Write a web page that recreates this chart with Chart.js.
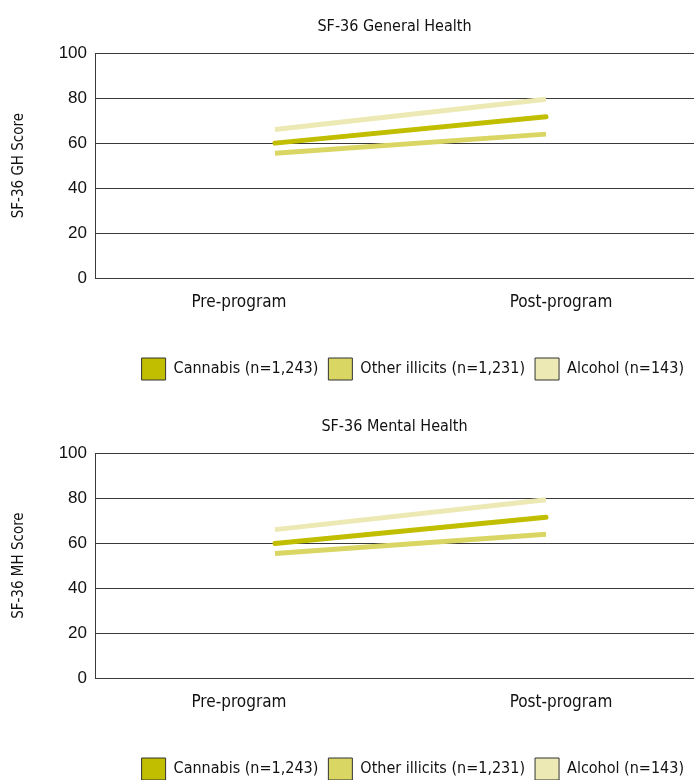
<!DOCTYPE html>
<html>
<head>
<meta charset="utf-8">
<script src="https://cdn.jsdelivr.net/npm/chart.js@4.4.1/dist/chart.umd.min.js"></script>
<style>
  html, body { margin: 0; background: #fff; overflow: hidden; height: 780px; }
  .box { position: relative; width: 694px; }
</style>
</head>
<body>
<div class="box" style="height:400px"><canvas id="ghChart"></canvas></div>
<div class="box" style="height:390px"><canvas id="mhChart"></canvas></div>
<script>
// data
const periods = ['Pre-program', 'Post-program'];
const groups = ['Cannabis (n=1,243)', 'Other illicits (n=1,231)', 'Alcohol (n=143)'];
const colors = ['#c1be00', '#d9d664', '#ece9b4'];

const ghCannabis = [60, 71.7];
const ghOther = [55.5, 64];
const ghAlcohol = [66.1, 79.5];

const mhCannabis = [59.8, 71.5];
const mhOther = [55.4, 63.9];
const mhAlcohol = [66, 79.3];

const yTicks = [0, 20, 40, 60, 80, 100];

Chart.defaults.font.family = "'Liberation Sans Narrow', 'DejaVu Sans Condensed', sans-serif";
Chart.defaults.color = '#111';

function makeChart(id, title, yTitle, series, bottomPad) {
  const datasets = series.map((vals, i) => ({
    label: groups[i],
    data: periods.map((p, k) => ({ x: k, y: vals[k] })),
    xAxisID: 'xl',
    borderColor: colors[i],
    backgroundColor: colors[i],
    borderWidth: 5,
    borderCapStyle: i === 0 ? 'round' : 'butt',
    pointRadius: 0,
    tension: 0
  }));

  return new Chart(document.getElementById(id), {
    type: 'line',
    data: { labels: periods, datasets: datasets },
    options: {
      responsive: true,
      maintainAspectRatio: false,
      animation: false,
      layout: { padding: { left: 0, right: 0, top: 0, bottom: bottomPad } },
      plugins: {
        title: {
          display: true,
          fullSize: false,
          text: title,
          font: { size: 16, weight: 'normal' },
          color: '#111',
          padding: { top: 17, bottom: 17 }
        },
        legend: {
          position: 'bottom',
          align: 'end',
          labels: {
            boxWidth: 24,
            boxHeight: 22,
            padding: 10,
            font: { size: 16 },
            generateLabels: chart => chart.data.datasets.map((ds, i) => ({
              text: ds.label,
              fillStyle: ds.backgroundColor,
              strokeStyle: '#333',
              lineWidth: 1,
              hidden: false,
              datasetIndex: i,
              fontColor: '#111'
            }))
          }
        },
        tooltip: { enabled: false }
      },
      scales: {
        // visible category labels
        x: {
          type: 'linear',
          min: -0.447,
          max: 1.413,
          afterBuildTicks: scale => { scale.ticks = periods.map((p, k) => ({ value: k })); },
          grid: { display: false, drawTicks: false },
          border: { display: false },
          ticks: {
            padding: 14,
            font: { size: 17 },
            color: '#111',
            callback: v => periods[v]
          },
          afterFit: scale => { scale.height = 70; }
        },
        // hidden axis that places the line ends
        xl: {
          type: 'linear',
          display: false,
          min: -0.664,
          max: 1.546
        },
        y: {
          min: 0,
          max: 100,
          afterBuildTicks: scale => { scale.ticks = yTicks.map(v => ({ value: v })); },
          grid: { color: '#3a3a3a', lineWidth: 1, drawTicks: false },
          border: { display: true, color: '#3a3a3a', width: 1 },
          ticks: { padding: 8, font: { size: 17, family: "'Liberation Sans', sans-serif" }, color: '#111' },
          title: {
            display: true,
            text: yTitle,
            font: { size: 15 },
            color: '#111',
            padding: { top: 10, bottom: 0 }
          },
          afterFit: scale => { scale.width = 95; }
        }
      }
    }
  });
}

makeChart('ghChart', 'SF-36 General Health', 'SF-36 GH Score', [ghCannabis, ghOther, ghAlcohol], 10);
makeChart('mhChart', 'SF-36 Mental Health', 'SF-36 MH Score', [mhCannabis, mhOther, mhAlcohol], 0);
</script>
</body>
</html>
